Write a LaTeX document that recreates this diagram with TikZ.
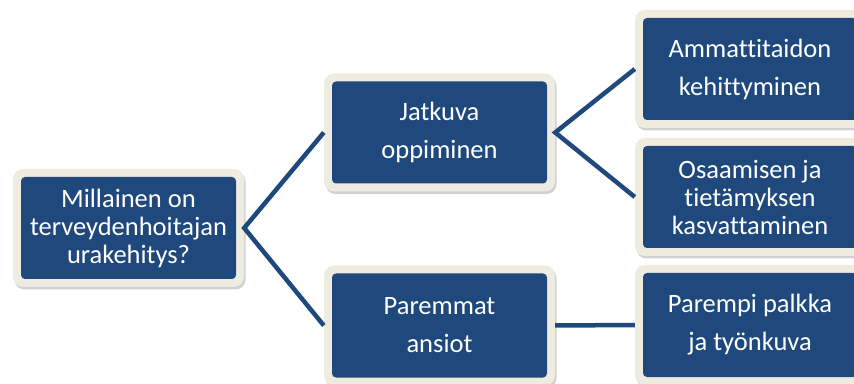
\documentclass[tikz,border=0pt]{standalone}
\usepackage{fontspec}
\setmainfont{Carlito}[Ligatures={NoCommon}]
\usetikzlibrary{shadows}
\definecolor{boxblue}{HTML}{1F497D}
\definecolor{boxcream}{HTML}{EEECE1}
\begin{document}
\begin{tikzpicture}[x=1pt,y=1pt,
  box/.style={rectangle, rounded corners=10pt, fill=boxcream,
    minimum width=231pt, minimum height=118pt, inner sep=0pt,
    text=white, align=center,
    drop shadow={shadow xshift=1.5pt, shadow yshift=-2.5pt, opacity=0.3, fill=black!60},
    path picture={\fill[boxblue, rounded corners=4pt]
      ([shift={(8pt,8pt)}]path picture bounding box.south west) rectangle
      ([shift={(-8pt,-8pt)}]path picture bounding box.north east);}},
  three/.style={font=\fontsize{26.5}{28}\selectfont},
  two/.style={font=\fontsize{26.5}{38}\selectfont},
  link/.style={draw=boxblue, line width=4.5pt}]
\useasboundingbox (0,0) rectangle (854,383);
\clip (0,0) rectangle (854,383);
\node[box, three] (root) at (128.5,155) {Millainen on\\terveydenhoitajan\\urakehitys?};
\node[box, two] (jat) at (439.5,250.5) {Jatkuva\\oppiminen};
\node[box, two, minimum height=120pt] (par) at (439.5,57.5) {Paremmat\\ansiot};
\node[box, two, minimum width=230pt] (amm) at (750,314) {Ammattitaidon\\kehittyminen};
\node[box, three, minimum width=230pt] (osa) at (750,186) {Osaamisen ja\\tietämyksen\\kasvattaminen};
\node[box, two, minimum width=230pt, minimum height=120pt] (pp) at (750,58) {Parempi palkka\\ja työnkuva};
\draw[link] (jat.west) -- (root.east) -- (par.west);
\draw[link] (amm.west) -- (jat.east) -- (osa.west);
\draw[link] (par.east) -- (pp.west);
\end{tikzpicture}
\end{document}
